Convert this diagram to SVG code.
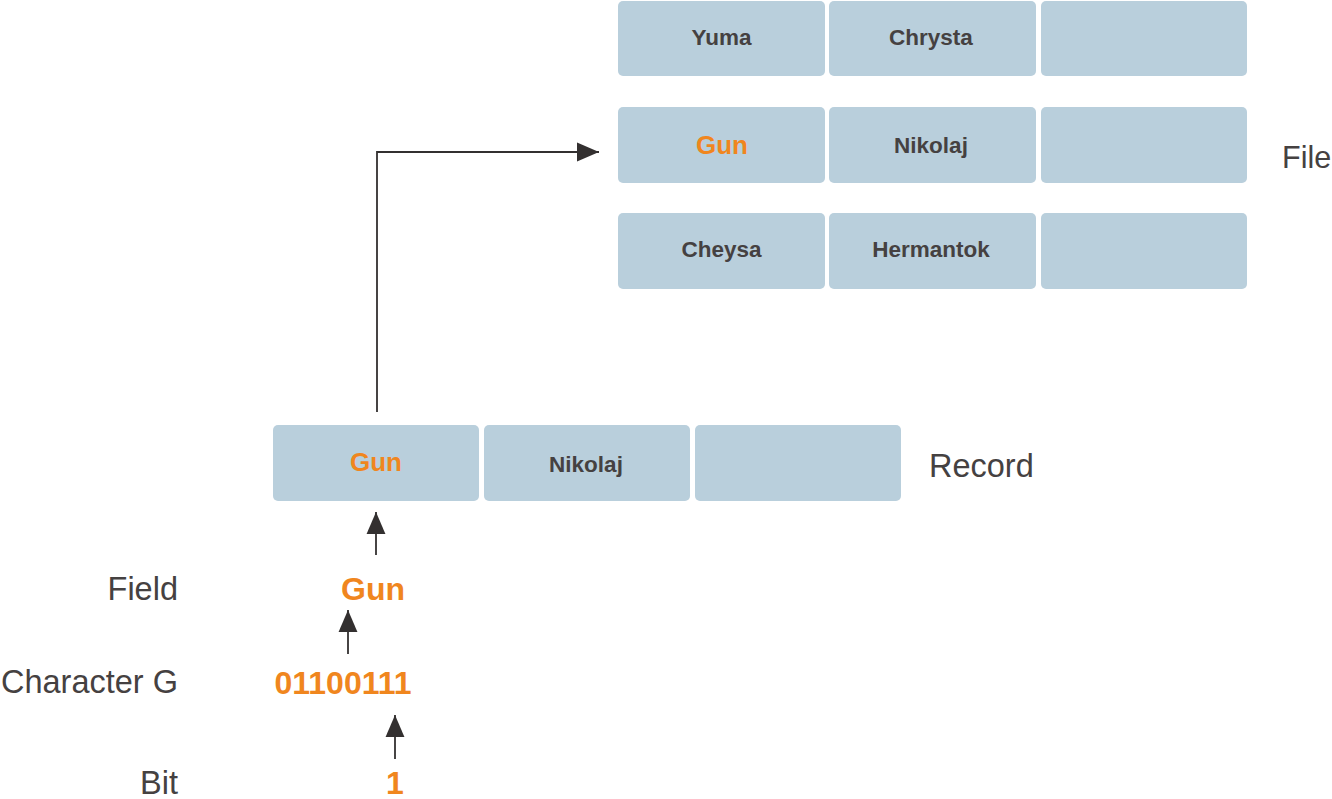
<svg xmlns="http://www.w3.org/2000/svg" width="1332" height="799" viewBox="0 0 1332 799">
<style>
.box{fill:#b9cfdc}
.t{font-family:"Liberation Sans",Arial,sans-serif;font-weight:bold;font-size:22.5px;fill:#454141;text-anchor:middle}
.o{fill:#f0861e}
.big{font-size:26px}
.lab{font-family:"Liberation Sans",Arial,sans-serif;font-size:32.5px;fill:#454141}
.lab.sm{font-size:30.5px}
.num{font-family:"Liberation Sans",Arial,sans-serif;font-weight:bold;font-size:32px;fill:#f0861e;text-anchor:middle}
.ln{fill:none;stroke:#333030;stroke-width:1.8}
</style>
<defs>
<marker id="ah" markerUnits="userSpaceOnUse" markerWidth="22" markerHeight="20" viewBox="0 0 21 18" refX="21" refY="9" orient="auto">
<path d="M0,0 L21,9 L0,18 Z" fill="#333030"/>
</marker>
</defs>
<g id="file">
<g id="r1c1"><rect class="box" x="618" y="1" width="207" height="75" rx="5"/><text class="t" x="721.5" y="45">Yuma</text></g>
<g id="r1c2"><rect class="box" x="829" y="1" width="207" height="75" rx="5"/><text class="t" x="931" y="45">Chrysta</text></g>
<g id="r1c3"><rect class="box" x="1041" y="1" width="206" height="75" rx="5"/></g>
<g id="r2c1"><rect class="box" x="618" y="107" width="207" height="76" rx="5"/><text class="t o big" x="722" y="154">Gun</text></g>
<g id="r2c2"><rect class="box" x="829" y="107" width="207" height="76" rx="5"/><text class="t" x="931" y="153">Nikolaj</text></g>
<g id="r2c3"><rect class="box" x="1041" y="107" width="206" height="76" rx="5"/></g>
<g id="r3c1"><rect class="box" x="618" y="213" width="207" height="76" rx="5"/><text class="t" x="721.5" y="257">Cheysa</text></g>
<g id="r3c2"><rect class="box" x="829" y="213" width="207" height="76" rx="5"/><text class="t" x="931" y="257">Hermantok</text></g>
<g id="r3c3"><rect class="box" x="1041" y="213" width="206" height="76" rx="5"/></g>
<text class="lab sm" x="1282" y="168">File</text>
</g>
<g id="record">
<g id="rec1"><rect class="box" x="273" y="425" width="206" height="76" rx="5"/><text class="t o big" x="376" y="471">Gun</text></g>
<g id="rec2"><rect class="box" x="484" y="425" width="206" height="76" rx="5"/><text class="t" x="586" y="472">Nikolaj</text></g>
<g id="rec3"><rect class="box" x="695" y="425" width="206" height="76" rx="5"/></g>
<text class="lab" x="929" y="477">Record</text>
</g>
<g id="field">
<text class="lab" x="178" y="600" text-anchor="end">Field</text>
<text class="num" x="373" y="600">Gun</text>
</g>
<g id="character">
<text class="lab" x="178" y="693" text-anchor="end">Character G</text>
<text class="num" x="343" y="694">01100111</text>
</g>
<g id="bit">
<text class="lab" x="178" y="794" text-anchor="end">Bit</text>
<text class="num" x="395" y="794">1</text>
</g>
<g id="connectors">
<path class="ln" d="M377,412 V152 H599" marker-end="url(#ah)"/>
<path class="ln" d="M376,555 V512" marker-end="url(#ah)"/>
<path class="ln" d="M348,654 V610" marker-end="url(#ah)"/>
<path class="ln" d="M395,759 V715" marker-end="url(#ah)"/>
</g>
</svg>
